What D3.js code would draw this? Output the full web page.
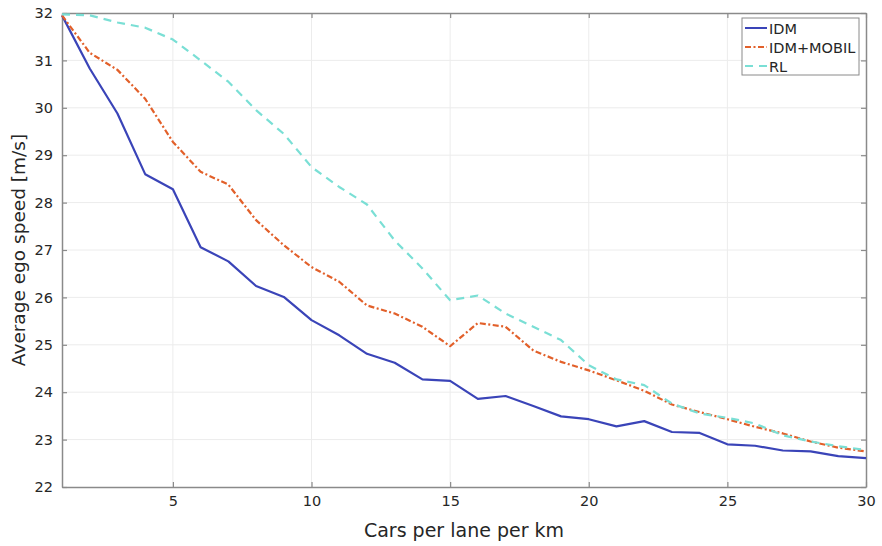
<!DOCTYPE html>
<html><head><meta charset="utf-8">
<script src="https://cdn.jsdelivr.net/npm/d3@7"></script>
<style>body{margin:0;background:#fff;} svg{display:block;font-family:"DejaVu Sans",sans-serif;}</style>
</head><body>
<svg id="chart" width="882" height="546"></svg>
<script>
const density = d3.range(1, 31);
const idm = [31.95,30.83,29.88,28.6,28.28,27.06,26.76,26.24,26.01,25.52,25.2,24.81,24.62,24.27,24.24,23.86,23.92,23.71,23.49,23.43,23.28,23.39,23.16,23.14,22.9,22.87,22.77,22.75,22.65,22.61];
const idmMobil = [31.95,31.16,30.8,30.19,29.28,28.65,28.38,27.63,27.1,26.64,26.33,25.83,25.66,25.38,24.97,25.46,25.38,24.88,24.64,24.46,24.25,24.03,23.74,23.58,23.43,23.27,23.13,22.96,22.83,22.75];
const rl = [31.97,31.95,31.8,31.69,31.44,31.0,30.55,29.95,29.45,28.75,28.33,27.96,27.2,26.61,25.94,26.04,25.66,25.38,25.1,24.57,24.27,24.15,23.76,23.55,23.46,23.34,23.09,22.96,22.86,22.78];
const seriesNames = ["IDM","IDM+MOBIL","RL"];
const xTicks = [5,10,15,20,25,30];
const yTicks = [22,23,24,25,26,27,28,29,30,31,32];

const series = [
  {name: seriesNames[0], values: idm, color: "#3a44b8", dash: null},
  {name: seriesNames[1], values: idmMobil, color: "#e2602a", dash: "6,2.5,2,2.5"},
  {name: seriesNames[2], values: rl, color: "#7adfd5", dash: "8,6"}
];

const svg = d3.select("#chart");
const L = 62, T = 13, R = 866, B = 487;
const x = d3.scaleLinear().domain([1,30]).range([L,R]);
const y = d3.scaleLinear().domain([22,32]).range([B,T]);

// grid
const g = svg.append("g");
g.selectAll(".vg").data(xTicks.filter(d=>d<30)).join("line")
  .attr("x1",d=>x(d)).attr("x2",d=>x(d)).attr("y1",T).attr("y2",B)
  .attr("stroke","#ececec").attr("stroke-width",1);
g.selectAll(".hg").data(yTicks.filter(d=>d>22&&d<32)).join("line")
  .attr("x1",L).attr("x2",R).attr("y1",d=>y(d)).attr("y2",d=>y(d))
  .attr("stroke","#ececec").attr("stroke-width",1);

// axes
const axisColor = "#8a8a8a";
const xAxis = svg.append("g").attr("transform",`translate(0,${B})`)
  .call(d3.axisBottom(x).tickValues(xTicks).tickSizeInner(-5).tickSizeOuter(0).tickPadding(9));
const yAxis = svg.append("g").attr("transform",`translate(${L},0)`)
  .call(d3.axisLeft(y).tickValues(yTicks).tickSizeInner(-5).tickSizeOuter(0).tickPadding(9));
const xTop = svg.append("g").attr("transform",`translate(0,${T})`)
  .call(d3.axisTop(x).tickValues(xTicks).tickSizeInner(-5).tickSizeOuter(0).tickFormat(""));
const yRight = svg.append("g").attr("transform",`translate(${R},0)`)
  .call(d3.axisRight(y).tickValues(yTicks).tickSizeInner(-5).tickSizeOuter(0).tickFormat(""));
[xAxis,yAxis,xTop,yRight].forEach(a=>{
  a.select(".domain").attr("stroke",axisColor).attr("stroke-width",1.5);
  a.selectAll(".tick line").attr("stroke",axisColor).attr("stroke-width",1.2);
  a.selectAll(".tick text").attr("fill","#262626").style("font-size","14.5px").style("font-family","DejaVu Sans");
});

// lines
const line = d3.line().x((d,i)=>x(density[i])).y(d=>y(d));
series.forEach(s=>{
  svg.append("path").datum(s.values).attr("d",line)
    .attr("fill","none").attr("stroke",s.color).attr("stroke-width",2.2)
    .attr("stroke-linejoin","round")
    .attr("stroke-dasharray",s.dash);
});

// axis titles
svg.append("text").attr("x",(L+R)/2).attr("y",537).attr("text-anchor","middle")
  .attr("fill","#262626").style("font-size","19px").text("Cars per lane per km");
svg.append("text").attr("transform",`translate(25,${(T+B)/2}) rotate(-90)`).attr("text-anchor","middle")
  .attr("fill","#262626").style("font-size","18.5px").text("Average ego speed [m/s]");

// legend
const lg = svg.append("g");
lg.append("rect").attr("x",742).attr("y",18).attr("width",117).attr("height",57)
  .attr("fill","#fff").attr("stroke","#8a8a8a").attr("stroke-width",1);
series.forEach((s,i)=>{
  const yy = 28 + i*19;
  lg.append("line").attr("x1",745).attr("x2",767).attr("y1",yy).attr("y2",yy)
    .attr("stroke",s.color).attr("stroke-width",2).attr("stroke-dasharray",s.dash);
  lg.append("text").attr("x",769).attr("y",yy+5.5).attr("fill","#262626")
    .style("font-size","14.5px").text(s.name);
});
</script>
</body></html>
